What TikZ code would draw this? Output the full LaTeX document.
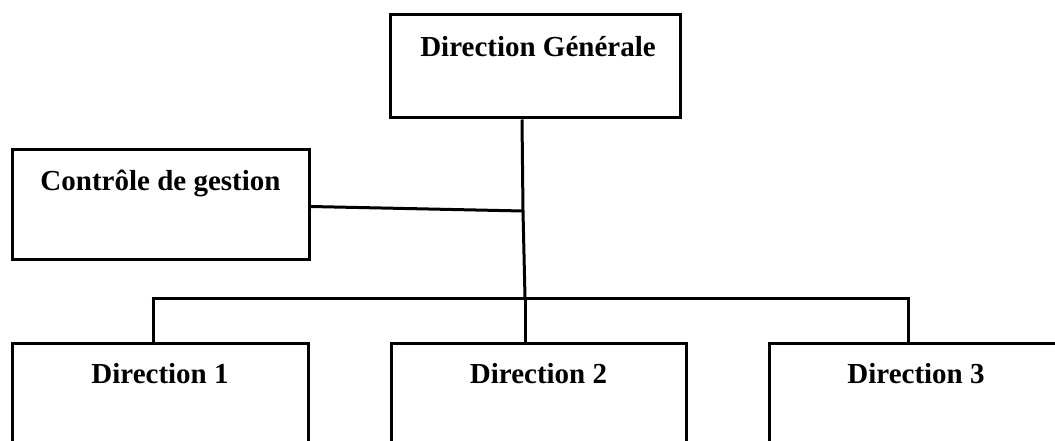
\documentclass[tikz,border=0pt]{standalone}
\usepackage{fontspec}
\setmainfont{Liberation Serif}
\begin{document}
\begin{tikzpicture}[x=1pt,y=-1pt,
  box/.style={draw, line width=3pt, inner sep=0pt},
  lbl/.style={font=\bfseries\fontsize{29}{34}\selectfont, anchor=base, inner sep=0pt},
  conn/.style={line width=3pt}]
\useasboundingbox (0,0) rectangle (1055,441);
\clip (0,0) rectangle (1055,441);
% boxes
\node[box, minimum width=290pt, minimum height=103pt] (dg) at (535,66.5) {};
\node[box, minimum width=297pt, minimum height=109pt] (cg) at (160.5,204.5) {};
\node[box, minimum width=296pt, minimum height=157pt] (d1) at (160,421.5) {};
\node[box, minimum width=295pt, minimum height=157pt] (d2) at (538.5,421.5) {};
\node[box, minimum width=301pt, minimum height=157pt] (d3) at (919.5,421.5) {};
% labels
\node[lbl] (dgt) at (538,57) {Direction Générale};
\node[lbl] (cgt) at (160.5,190) {Contrôle de gestion};
\node[lbl] (d1t) at (160,383) {Direction 1};
\node[lbl] (d2t) at (538.5,383) {Direction 2};
\node[lbl] (d3t) at (916,383) {Direction 3};
% connectors
\coordinate (j1) at (523,211);
\coordinate (bl) at (153,298);
\coordinate (bm) at (525,298);
\coordinate (br) at (908,298);
\draw[conn] ([xshift=-13pt]dg.south) -- (j1) -- (bm);
\draw[conn] ([yshift=-2pt]cg.east) -- (j1);
\draw[conn] ([xshift=-1.5pt]bl) -- ([xshift=1.5pt]br);
\draw[conn] (bl) -- (bl |- d1.north);
\draw[conn] (bm) -- (bm |- d2.north);
\draw[conn] (br) -- (br |- d3.north);
\end{tikzpicture}
\end{document}
